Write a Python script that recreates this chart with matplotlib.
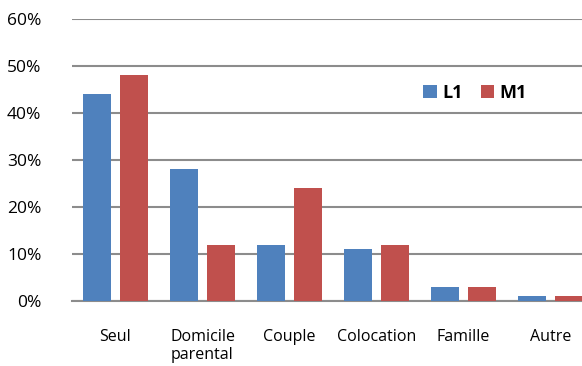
import numpy as np
import matplotlib.pyplot as plt

categories = ["Seul", "Domicile\nparental", "Couple", "Colocation", "Famille", "Autre"]
l1 = [44, 28, 12, 11, 3, 1]
m1 = [48, 12, 24, 12, 3, 1]
yticks = [0, 10, 20, 30, 40, 50, 60]

plt.rcParams['font.family'] = ['Open Sans', 'DejaVu Sans']

fig = plt.figure(figsize=(5.82, 3.66), dpi=100)
ax = fig.add_axes([72 / 582, 1 - 301 / 366, 522 / 582, 282 / 366])

x = np.arange(len(categories))
w = 0.32
off = 0.21
ax.bar(x - off, l1, w, color='#4F81BD', label='L1', zorder=3)
ax.bar(x + off, m1, w, color='#C0504D', label='M1', zorder=3)

ax.set_xlim(-0.5, len(categories) - 0.5)
ax.set_ylim(0, 60)
ax.set_yticks(yticks)
ax.set_yticklabels([f"{t}%" for t in yticks], fontsize=12.5)
ax.set_xticks(x)
ax.set_xticklabels(categories, fontsize=11.5, linespacing=1.15)
ax.tick_params(axis='both', length=0)
ax.tick_params(axis='y', pad=22)
ax.tick_params(axis='x', pad=20)
ax.yaxis.grid(True, color='#8c8c8c', linewidth=1.5, zorder=0)
ax.set_axisbelow(True)
for s in ['top', 'right', 'left']:
    ax.spines[s].set_visible(False)
ax.spines['bottom'].set_color('#8c8c8c')
ax.spines['bottom'].set_linewidth(1.5)

leg = ax.legend(loc='center', bbox_to_anchor=(475 / 582, 1 - 93 / 366), bbox_transform=fig.transFigure,
                ncol=2, frameon=False, prop={'weight': 'bold', 'size': 13},
                handlelength=0.75, handleheight=0.75, handletextpad=0.3, columnspacing=1.0)

fig.savefig('out.png', dpi=100)
